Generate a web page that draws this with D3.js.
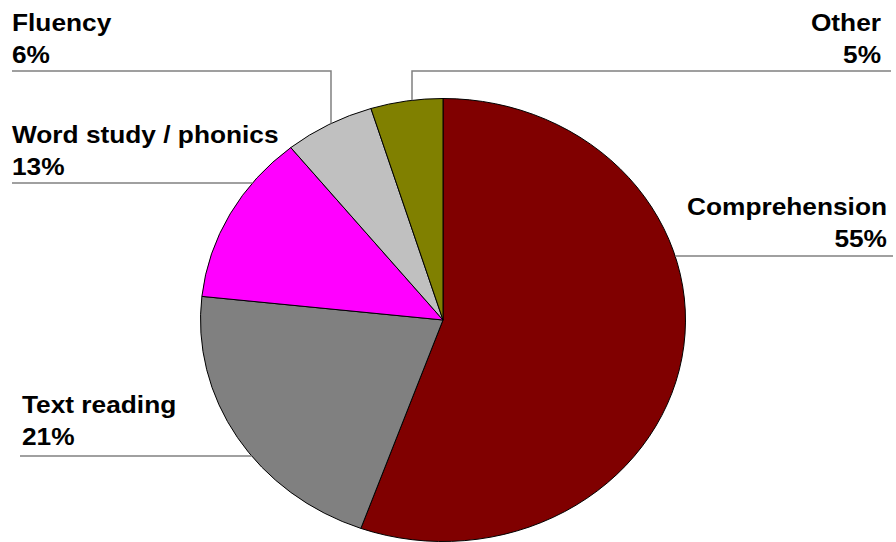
<!DOCTYPE html>
<html>
<head>
<meta charset="utf-8">
<script src="https://cdn.jsdelivr.net/npm/d3@7"></script>
<style>
  body { margin: 0; background: #fff; }
  text { font-family: "Liberation Sans", Arial, sans-serif; font-weight: bold; font-size: 24px; fill: #000; }
</style>
</head>
<body>
<div id="chart"></div>
<script>
var categories = ["Comprehension", "Text reading", "Word study / phonics", "Fluency", "Other"];
var values = [55.5, 21.2, 12.5, 6.0, 4.8];
var percentLabels = ["55%", "21%", "13%", "6%", "5%"];
var colors = ["#800000", "#808080", "#FF00FF", "#C0C0C0", "#808000"];

// label placement in screen pixels
var labelPos = [
  {anchor: "end",   x: 887, y: 215, lineY: 256, lineEnd: 893},
  {anchor: "start", x: 22,  y: 413, lineY: 456, lineEnd: 20},
  {anchor: "start", x: 12,  y: 143, lineY: 183, lineEnd: 12},
  {anchor: "start", x: 12,  y: 31,  lineY: 71,  lineEnd: 12,  elbowX: 331},
  {anchor: "end",   x: 881, y: 31,  lineY: 71,  lineEnd: 891, elbowX: 412}
];

var width = 896, height = 542;
var cx = 443, cy = 320, r = 221.5;
var sx = 242.5 / 221.5; // chart is stretched horizontally

var svg = d3.select("#chart").append("svg")
  .attr("width", width)
  .attr("height", height);

var g = svg.append("g").attr("transform", "scale(" + sx + ",1)");

var pie = d3.pie().sort(null).value(function(d) { return d; });
var arc = d3.arc().innerRadius(0).outerRadius(r);

var pieG = g.append("g").attr("transform", "translate(" + (cx / sx) + "," + cy + ")");

pieG.selectAll("path")
  .data(pie(values))
  .enter()
  .append("path")
  .attr("d", arc)
  .attr("fill", function(d, i) { return colors[i]; })
  .attr("stroke", "#000")
  .attr("stroke-width", 1)
  .attr("vector-effect", "non-scaling-stroke");

// leader lines
var ux = cx / sx;
labelPos.forEach(function(p) {
  var pts;
  if (p.elbowX !== undefined) {
    var ex = p.elbowX / sx;
    var ey = cy - Math.sqrt(r * r - (ex - ux) * (ex - ux));
    pts = [[p.lineEnd / sx, p.lineY], [ex, p.lineY], [ex, ey]];
  } else {
    var dy = p.lineY - cy;
    var dx = Math.sqrt(r * r - dy * dy);
    var edge = p.lineEnd > cx ? ux + dx : ux - dx;
    pts = [[p.lineEnd / sx, p.lineY], [edge, p.lineY]];
  }
  g.append("path")
    .attr("d", d3.line()(pts))
    .attr("fill", "none")
    .attr("stroke", "#808080")
    .attr("stroke-width", 1.5)
    .attr("vector-effect", "non-scaling-stroke");
});

// labels
var lab = g.selectAll(".label")
  .data(categories)
  .enter()
  .append("text")
  .attr("class", "label")
  .attr("text-anchor", function(d, i) { return labelPos[i].anchor; })
  .attr("x", function(d, i) { return labelPos[i].x / sx; })
  .attr("y", function(d, i) { return labelPos[i].y; });

lab.append("tspan")
  .attr("x", function(d, i) { return labelPos[i].x / sx; })
  .text(function(d) { return d; });

lab.append("tspan")
  .attr("x", function(d, i) { return labelPos[i].x / sx; })
  .attr("dy", 32)
  .text(function(d, i) { return percentLabels[i]; });
</script>
</body>
</html>
